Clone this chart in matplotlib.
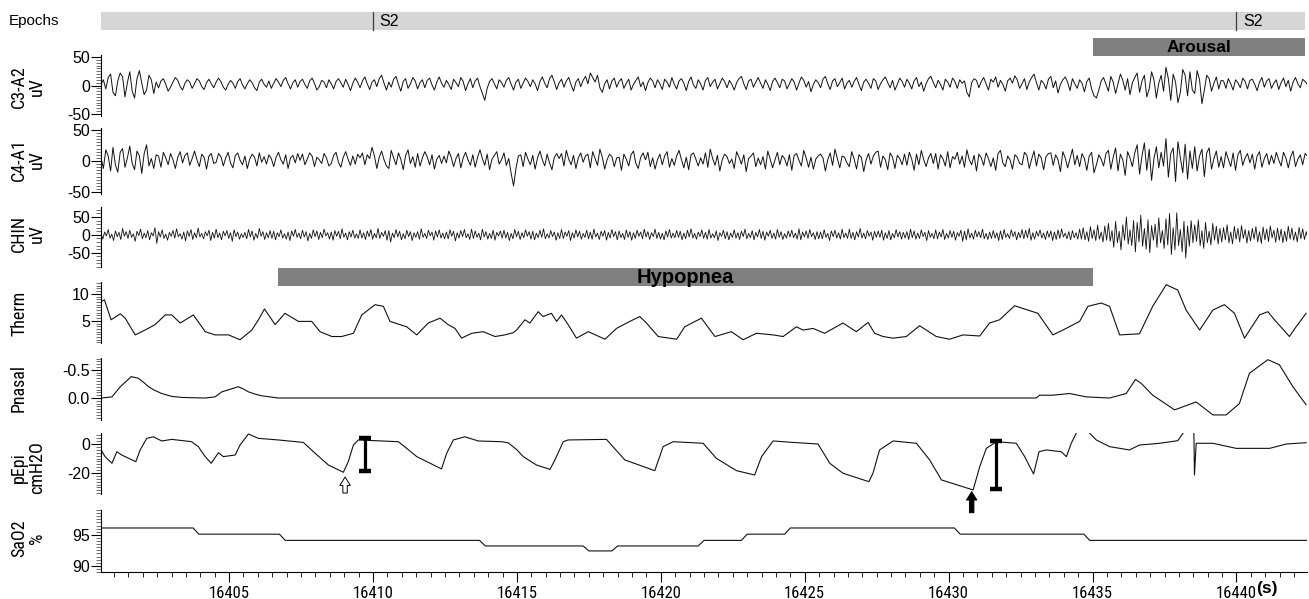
import numpy as np
import matplotlib
matplotlib.use("Agg")
import matplotlib.pyplot as plt
import matplotlib.font_manager as fm
from matplotlib.patches import Rectangle
from matplotlib.ticker import MultipleLocator, FixedLocator, FormatStrFormatter

# ---------------- data ----------------
t_start = 16400.55
eeg_dt = 1 / 12     # EEG sampling interval (s)
chin_dt = 1 / 16    # chin EMG sampling interval (s)

c3_a2 = [
    2, 10, -6, 14, 20, -12, -18, 8, 22, 15, -20, 5,
    24, -10, -22, 12, 26, 4, -16, -8, 18, 10, -14, 6,
    -4, 8, 12, 2, -10, -3, 6, 14, 9, -2, -8, 4,
    10, 6, -5, 3, 12, 8, -2, -7, 5, 11, 3, -4,
    6, 13, 7, -3, -8, 2, 9, 4, -5, 7, 12, 1,
    -6, 3, 10, 5, -4, -9, 6, 11, 2, -3, 8, -5,
    4, 12, 6, -2, 9, 14, 3, -6, 5, 10, -3, 7,
    11, 2, -5, 8, 13, 4, -8, -2, 9, 6, -4, 10,
    3, -6, 7, 12, 5, -3, 11, 2, -9, 4, 13, 6,
    -4, 8, 15, 3, -7, 6, 10, -2, 12, 18, 4, -8,
    6, -3, 11, 16, 2, -10, 7, 12, -5, 3, 14, 8,
    -6, 5, 10, -4, 9, 13, 1, -8, 6, 15, 4, -3,
    9, 2, -7, 11, 5, -2, 14, 7, -9, 3, 12, -4,
    8, 13, -2, -14, -26, -5, 7, 12, 3, -6, 10, 5,
    -3, 9, 14, 2, -8, 6, 11, -5, 4, 13, 7, -2,
    10, 3, -9, 7, 15, 4, -4, 12, 18, 6, -7, 5,
    11, -3, 8, 14, 1, -10, 6, 12, -2, 9, 16, 3,
    22, 14, 6, 18, -4, -12, 3, 10, -6, 8, 13, -3,
    7, 12, -5, 4, 11, -8, 2, 9, 15, -2, 6, -9,
    5, 13, 8, -4, 10, 3, -7, 11, 6, -3, 14, 2,
    -6, 8, 12, 4, -9, 7, 15, 1, -5, 10, 3, -8,
    9, 14, -2, 6, 11, -6, 3, 13, 7, -4, 9, 2,
    -8, 5, 12, 16, 3, -7, 8, 11, -3, 6, 14, 4,
    -5, 10, 2, -9, 7, 13, 5, -4, 11, 8, -6, 3,
    12, 6, -8, 4, 15, 9, -3, 7, -11, 2, 10, 5,
    -4, 11, 16, 3, -7, 8, 12, -2, 5, 13, -6, 4,
    9, -3, 7, 14, 2, -9, 6, 11, 4, -5, 12, 8,
    -7, 3, 10, 15, 5, -4, 9, -8, 2, 13, 7, -3,
    11, 4, -6, 8, 14, -2, 6, -10, 3, 12, 16, 5,
    -4, 9, 2, -8, 11, 6, -3, 13, 7, -5, 10, 4,
    8, -12, -20, 5, 12, 9, -4, 7, 14, 3, -8, 11,
    6, 15, -3, 9, 2, -10, 8, 13, 4, 17, 10, -5,
    3, 12, -7, 6, 14, 20, 5, -8, 9, 4, -6, 11,
    16, -4, 8, -13, 2, 10, 15, 6, -9, 12, 3, -5,
    10, 4, -11, 7, 13, -6, -18, -22, -8, 8, 14, 2,
    -10, 16, 6, -14, 3, 20, 9, -8, 12, -16, 5, 14,
    22, -12, 8, 18, -20, -6, 24, 10, -22, 4, 18, -10,
    32, 12, -26, 20, 6, -30, -12, 28, 18, -18, 24, -8,
    -14, 26, 10, -32, -8, 18, 12, -10, 4, 15, -6, 9,
    8, -5, 12, 3, -8, 10, 5, -4, 13, 7, -6, 9,
    11, 2, -9, 6, 14, -3, 8, 12, -5, 4, 10, -7,
    5, 13, -2, 9, -10, 6, 14, 3, -4, 11, 7, 2,
]

c4_a1 = [
    6, -12, 18, 8, -16, 22, -6, -18, 14, 20, -10, 5,
    24, -4, -14, 16, 8, -20, 12, 26, -8, 4, -12, 10,
    8, -10, 14, 5, -6, 12, 2, -12, 6, 15, -3, 9,
    13, -7, 4, 16, 2, -9, 11, 6, -13, 8, 12, -4,
    -2, 12, 7, -8, 5, 14, -3, -11, 9, 13, 1, -6,
    8, -12, 3, 11, 6, -8, 13, -2, 7, -5, 10, 4,
    -9, 6, 14, 2, -5, 10, -12, 5, 9, -3, 12, 1,
    11, -6, 3, 13, 8, -9, 6, 2, -4, 12, 5, -8,
    -4, 9, 14, -2, -10, 6, 15, 3, -7, 8, -5, 11,
    5, 13, -6, 10, 4, 22, 8, -12, 6, 16, 2, -8,
    -12, 17, 5, -6, 13, 3, -14, 9, 18, -4, 7, -10,
    12, -8, 5, 15, 7, -6, 10, -13, 3, 9, -4, 8,
    -3, 16, 6, -9, 4, 12, -11, 5, 14, 2, -7, 10,
    -10, 6, 18, 4, -7, 11, -14, 3, 9, 15, -5, 2,
    13, -7, 4, -20, -40, -12, 8, 10, -9, 14, 3, -6,
    9, -13, 5, 16, 2, -8, 11, -3, -14, 6, 12, 4,
    12, -8, 17, 3, -6, 9, -12, 5, 13, -2, 8, 11,
    -11, 15, 4, -7, 19, 6, -13, 2, 11, 7, -9, 5,
    6, -15, 11, 3, -8, 10, 16, -4, -12, 6, 13, 2,
    14, -9, 5, -13, 2, 11, -6, 8, 15, -10, 4, -7,
    8, 17, 2, -11, 6, -14, 10, 13, 3, -8, 5, -5,
    13, -10, 19, 4, -7, 9, -16, 2, 11, 7, -4, 3,
    -12, 15, 6, -5, 10, -17, 4, 8, 13, -9, 5, -6,
    7, -13, 16, 3, -11, 2, 14, -6, 9, 4, -8, 10,
    -15, 9, 12, 1, -8, 17, 5, -10, 6, -13, 3, 8,
    11, 5, -16, 2, 13, -7, 19, 4, -11, 8, 6, -3,
    -9, 15, 3, -13, 10, 6, -17, 2, 12, -5, 8, 14,
    16, -10, 8, 2, -14, 13, 6, -12, 9, 4, -6, 11,
    -7, 14, 3, -15, 11, -6, 17, 2, -9, 5, 12, -4,
    12, -13, 10, 4, -8, 15, -11, 7, 3, 14, -5, 8,
    -10, 18, 2, -6, 9, -16, 11, 5, -7, 13, 4, -9,
    5, -15, 12, 17, -3, -9, 8, 2, -13, 10, 6, -4,
    -6, 14, 9, -12, 3, 16, -8, 11, 5, -14, 7, 12,
    13, -7, 10, 2, -17, 15, 5, -11, 4, 19, -6, 9,
    -9, 12, 4, -15, 8, 14, -19, -6, 10, 3, -8, 12,
    17, -13, 6, 21, -16, 11, 2, -23, 15, 5, -9, 13,
    26, -21, 8, 29, -15, 19, -31, 4, 23, -11, 14, -8,
    36, -26, 12, 21, -33, 31, 5, -19, 27, -29, 16, -12,
    23, -16, 8, 19, -25, 13, 21, -13, 4, 16, -10, 7,
    -11, 15, 3, -9, 13, -15, 10, 17, -7, 5, 12, -3,
    11, -13, 8, 15, -10, 4, 12, -6, 9, -4, 14, 2,
    -8, 14, 5, -11, 7, 16, -9, 3, 10, -6, 12, 8,
]

chin = [
    4, -12, 8, -3, 15, -9, 2, -16, 11, -5, 7, -13, 18, -4, 9, -10,
    13, -7, 3, -18, 10, -2, 16, -11, 5, -8, 12, -14, 6, -3, 20, -24,
    9, -6, 14, -10, 2, -15, 7, -4, 12, -9, 17, -5, 3, -12, 8, -17,
    11, -4, 15, -13, 6, -8, 19, -6, 4, -11, 9, -3, 13, -16, 7, -9,
    16, -8, 5, -14, 10, -3, 12, -10, 6, -18, 14, -5, 8, -12, 3, -7,
    7, -11, 15, -6, 11, -15, 4, -9, 18, -4, 9, -13, 6, -8, 12, -10,
    10, -14, 6, -5, 14, -9, 3, -12, 8, -16, 11, -4, 15, -7, 5, -11,
    13, -6, 9, -17, 4, -10, 14, -5, 11, -13, 7, -8, 16, -3, 6, -12,
    8, -15, 12, -4, 10, -11, 17, -7, 5, -14, 9, -6, 13, -9, 3, -10,
    14, -9, 6, -13, 11, -5, 15, -12, 4, -8, 18, -10, 7, -4, 12, -15,
    12, -20, 5, -8, 15, -6, 10, -14, 3, -11, 13, -5, 9, -16, 6, -7,
    9, -12, 17, -7, 4, -10, 13, -3, 8, -15, 11, -6, 14, -9, 5, -11,
    8, -11, 14, -4, 10, -17, 6, -9, 12, -5, 15, -8, 3, -13, 16, -10,
    11, -7, 5, -14, 16, -6, 9, -12, 4, -10, 13, -15, 7, -3, 11, -9,
    13, -9, 7, -16, 4, -11, 15, -5, 10, -13, 6, -8, 14, -4, 9, -12,
    10, -14, 5, -8, 13, -7, 17, -11, 3, -9, 12, -5, 8, -15, 6, -10,
    15, -10, 8, -4, 12, -16, 6, -9, 14, -6, 10, -12, 4, -7, 13, -11,
    8, -12, 16, -6, 5, -13, 10, -4, 12, -15, 7, -9, 15, -5, 9, -14,
    11, -8, 4, -13, 14, -7, 9, -15, 6, -10, 13, -4, 8, -11, 16, -6,
    9, -13, 6, -5, 16, -10, 7, -12, 4, -14, 11, -6, 15, -9, 5, -8,
    12, -7, 10, -14, 5, -11, 13, -6, 17, -9, 4, -12, 8, -5, 14, -10,
    7, -12, 15, -9, 3, -8, 11, -16, 6, -4, 13, -11, 9, -14, 5, -7,
    14, -9, 6, -13, 10, -5, 16, -11, 4, -8, 12, -14, 7, -6, 15, -10,
    10, -15, 8, -4, 13, -10, 5, -12, 15, -7, 9, -13, 3, -9, 11, -6,
    13, -8, 5, -12, 17, -14, 8, -6, 11, -10, 15, -5, 6, -13, 9, -11,
    8, -11, 14, -7, 4, -16, 11, -5, 13, -9, 6, -12, 16, -8, 5, -10,
    16, -10, 7, -14, 9, -6, 18, -9, 5, -11, 12, -4, 8, -15, 10, -7,
    11, -7, 13, -15, 6, -10, 12, -14, 4, -8, 15, -6, 9, -12, 7, -9,
    9, -13, 16, -8, 11, -12, 5, -10, 14, -5, 7, -16, 12, -7, 4, -11,
    14, -11, 8, -6, 15, -13, 4, -9, 12, -7, 10, -15, 6, -4, 13, -18,
    10, -14, 17, -9, 5, -12, 13, -6, 9, -8, 16, -11, 4, -13, 8, -10,
    12, -9, 6, -16, 11, -13, 15, -7, 3, -10, 14, -5, 9, -14, 7, -8,
    15, -11, 13, -8, 18, -15, 6, -12, 10, -4, 14, -9, 5, -13, 11, -7,
    11, -16, 8, -13, 14, -10, 17, -6, 5, -11, 9, -14, 12, -8, 6, -12,
    16, -12, 20, -14, 9, -18, 23, -10, 14, -16, 27, -12, 8, -20, 25, -15,
    32, -18, 12, -35, 38, -22, 10, -42, 28, -15, 50, -26, 14, -30, 40, -48,
    35, -20, 55, -32, 18, -40, 42, -50, 26, -15, 30, -35, 48, -22, 12, -38,
    45, -28, 60, -55, 20, -42, 62, -30, 15, -48, 38, -65, 25, -32, 40, -22,
    28, -18, 42, -30, 12, -38, 35, -22, 10, -28, 32, -15, 24, -26, 18, -20,
    20, -14, 28, -22, 8, -25, 24, -12, 18, -20, 26, -10, 15, -23, 12, -17,
    18, -12, 23, -20, 9, -24, 22, -14, 16, -19, 25, -8, 13, -21, 19, -15,
    16, -22, 10, -18, 24, -12, 19, -15, 8, -20, 21, -11, 17, -13, 9, -14,
]

therm_t = [16400.56, 16400.67, 16400.90, 16401.22, 16401.39, 16401.74, 16402.08, 16402.43, 16402.78,
           16403.01, 16403.30, 16403.76, 16404.17, 16404.51, 16404.98, 16405.38, 16405.79, 16406.02,
           16406.23, 16406.60, 16406.94, 16407.41, 16407.87, 16408.16, 16408.57, 16408.91, 16409.32,
           16409.61, 16410.07, 16410.36, 16410.59, 16410.94, 16411.17, 16411.52, 16411.92, 16412.33,
           16412.61, 16412.85, 16413.08, 16413.43, 16413.83, 16414.24, 16414.58, 16414.87, 16414.99,
           16415.28, 16415.45, 16415.74, 16415.91, 16416.20, 16416.38, 16416.55, 16416.78, 16417.07,
           16417.48, 16418.06, 16418.46, 16418.92, 16419.27, 16419.50, 16419.91, 16420.55, 16420.83,
           16421.41, 16421.88, 16422.45, 16422.86, 16423.32, 16423.90, 16424.25, 16424.71, 16424.94,
           16425.29, 16425.69, 16426.33, 16426.79, 16427.20, 16427.43, 16427.72, 16428.07, 16428.53,
           16428.99, 16429.57, 16430.03, 16430.50, 16431.08, 16431.42, 16431.77, 16432.29, 16433.10,
           16433.62, 16433.97, 16434.55, 16434.84, 16435.30, 16435.59, 16435.94, 16436.63, 16437.09,
           16437.56, 16437.96, 16438.25, 16438.72, 16439.18, 16439.58, 16439.93, 16440.28, 16440.80,
           16441.09, 16441.32, 16441.84, 16442.07, 16442.42]
therm_v = [8.6, 8.9, 5.2, 6.3, 5.5, 2.4, 3.3, 4.3, 6.1, 6.1, 4.6, 6.1, 3.0, 2.4, 2.4, 1.5, 3.3, 5.2,
           7.2, 4.3, 6.4, 4.9, 4.9, 3.0, 2.1, 2.1, 2.7, 6.1, 8.0, 7.7, 4.9, 4.3, 3.9, 2.4, 4.6, 5.5,
           4.3, 3.6, 1.8, 2.7, 3.0, 2.1, 2.4, 2.8, 3.3, 5.2, 4.6, 6.7, 5.8, 6.4, 4.9, 6.1, 4.3, 1.8,
           3.0, 1.6, 3.6, 4.9, 5.8, 4.6, 2.1, 1.6, 3.9, 5.5, 2.1, 3.0, 1.5, 2.7, 2.4, 2.1, 3.9, 3.3,
           3.6, 2.7, 4.6, 3.0, 4.7, 2.7, 2.1, 1.8, 2.1, 4.1, 2.1, 1.6, 2.4, 2.2, 4.6, 5.2, 7.8, 6.4,
           2.4, 3.3, 4.9, 7.7, 8.3, 7.7, 2.4, 2.6, 7.7, 11.7, 10.7, 7.0, 3.3, 7.0, 8.0, 6.4, 1.8, 6.1,
           6.7, 5.2, 2.1, 3.9, 6.4]

pnasal_t = [16400.56, 16400.93, 16401.22, 16401.60, 16401.85, 16402.05, 16402.20, 16402.40, 16402.66,
            16403.00, 16403.36, 16404.17, 16404.51, 16404.75, 16405.32, 16405.50, 16405.67, 16405.90,
            16406.13, 16406.71, 16433.04, 16433.16, 16433.62, 16434.20, 16434.78, 16435.59, 16436.17,
            16436.49, 16436.69, 16437.09, 16437.85, 16438.60, 16439.18, 16439.64, 16440.10, 16440.45,
            16441.09, 16441.49, 16441.96, 16442.42]
pnasal_v = [0.0, -0.02, -0.20, -0.38, -0.35, -0.27, -0.20, -0.14, -0.08, -0.03, -0.01, 0.0, -0.02,
            -0.11, -0.20, -0.16, -0.11, -0.07, -0.04, 0.0, 0.0, -0.05, -0.05, -0.08, -0.02, 0.0, -0.08,
            -0.33, -0.26, -0.05, 0.21, 0.07, 0.30, 0.30, 0.10, -0.44, -0.68, -0.59, -0.20, 0.12]

nan = float("nan")
pepi_t = [16400.52, 16400.69, 16400.93, 16401.10, 16401.27, 16401.76, 16401.91, 16402.14, 16402.37,
          16402.66, 16403.01, 16403.70, 16403.93, 16404.17, 16404.38, 16404.63, 16404.80, 16405.21,
          16405.38, 16405.67, 16406.02, 16406.71, 16407.58, 16407.99, 16408.45, 16408.97, 16409.14,
          16409.32, 16409.49, 16410.88, 16411.17, 16411.52, 16412.38, 16412.56, 16412.79, 16413.19,
          16413.66, 16414.47, 16414.70, 16415.00, 16415.22, 16415.68, 16416.15, 16416.32, 16416.61,
          16416.78, 16418.11, 16418.75, 16419.79, 16420.08, 16420.43, 16421.47, 16421.93, 16422.63,
          16423.26, 16423.50, 16423.90, 16424.59, 16425.46, 16425.87, 16426.33, 16427.23, 16427.37,
          16427.60, 16428.07, 16428.88, 16429.34, 16429.75, 16430.85, 16431.08, 16431.31, 16431.66,
          16432.35, 16432.64, 16432.95, 16433.14, 16433.39, 16433.91, 16434.09, 16434.26, 16434.43,
          16434.65, 16434.90, 16435.13, 16435.59, 16436.28, 16436.63, 16437.33, 16437.96, 16438.14,
          16438.33, 16438.52, 16438.54, 16438.60, 16439.18, 16439.99, 16441.15, 16441.73, 16442.42]
pepi_v = [-3.0, -8.7, -13.3, -5.3, -7.6, -12.2, -4.1, 3.9, 5.0, 2.1, 3.2, 1.6, -1.8, -8.7, -13.3,
          -6.0, -8.7, -7.6, -0.7, 6.9, 3.9, 2.8, 1.1, -6.4, -14.5, -19.5, -12.2, -0.7, 2.8, 1.6,
          -3.0, -8.7, -17.2, -6.4, 2.8, 5.0, 2.1, 1.6, 0.8, -4.0, -8.7, -14.5, -17.5, -11.0, 1.6,
          2.8, 3.2, -11.0, -18.4, -1.8, 1.6, 0.5, -9.9, -18.4, -21.4, -8.7, 2.1, 1.1, 0.0, -13.3,
          -20.2, -26.0, -20.2, -4.1, 2.1, 0.5, -11.0, -24.8, -31.7, -15.6, -3.0, 1.6, 0.5, -8.7,
          -20.7, -5.3, -4.1, -5.3, -8.7, 0.5, 7.4, nan, 7.4, 2.8, -1.8, -4.1, -0.7, 0.5, 2.3, 7.4,
          nan, 7.4, -21.4, 0.5, 0.5, -3.0, -3.0, 0.0, 0.9]

sao2_t = [16400.55, 16403.75, 16403.95, 16406.75, 16406.95, 16413.70, 16413.90, 16417.30, 16417.50,
          16418.30, 16418.50, 16421.30, 16421.50, 16422.80, 16423.00, 16424.30, 16424.50, 16430.20,
          16430.40, 16434.70, 16434.90, 16442.45]
sao2_v = [96.1, 96.1, 95.1, 95.1, 94.1, 94.1, 93.2, 93.2, 92.4, 92.4, 93.2, 93.2, 94.1, 94.1, 95.1,
          95.1, 96.1, 96.1, 95.1, 95.1, 94.1, 94.1]

epoch_starts = [16410.0, 16440.0]
epoch_labels = ["S2", "S2"]
events = [("Arousal", 16435.0, 16442.38), ("Hypopnea", 16406.7, 16435.0)]

arrow_t = [16409.03, 16430.80]
arrow_tip = [-22.8, -32.9]
arrow_tail = [-33.8, -47.4]
arrow_fill = ["white", "black"]
ibeam_t = [16409.72, 16431.63]
ibeam_top = [4.0, 2.1]
ibeam_bot = [-18.6, -31.3]

# ---------------- fonts ----------------
names = {f.name for f in fm.fontManager.ttflist}
REG = "Liberation Sans" if "Liberation Sans" in names else "DejaVu Sans"
COND = None
for nm in ["Liberation Sans Narrow", "Arial Narrow", "Roboto Condensed", "Open Sans Condensed",
           "Noto Sans Condensed", "DejaVu Sans Condensed"]:
    if nm in names:
        COND = (nm, "normal")
        break
if COND is None:
    pref = ["Liberation Sans", "Roboto", "Noto Sans", "Open Sans", "DejaVu Sans"]
    found = [f for f in fm.fontManager.ttflist
             if f.name in pref and f.stretch in ("condensed", "semi-condensed")
             and f.style == "normal" and f.weight in (400, "normal", "regular")]
    if found:
        found.sort(key=lambda f: pref.index(f.name))
        COND = (found[0].name, found[0].stretch)

plt.rcParams["font.family"] = [REG, "DejaVu Sans"]
plt.rcParams["axes.unicode_minus"] = False

if COND:
    lab_font = dict(family=[COND[0], REG], stretch=COND[1], size=13)
    xt_font = dict(family=[COND[0], REG], stretch=COND[1], size=12)
else:
    lab_font = dict(family=[REG], size=11)
    xt_font = dict(family=[REG], size=10.5)

# ---------------- layout ----------------
W, H = 1309, 599
fig = plt.figure(figsize=(W / 100, H / 100), dpi=100)
L, R = 101, 1307
XL = (16400.55, 16442.45)


def ax_at(top, bot):
    a = fig.add_axes([L / W, 1 - bot / H, (R - L) / W, (bot - top) / H])
    a.set_xlim(*XL)
    a.patch.set_alpha(0)
    return a


eeg_t = t_start + np.arange(len(c3_a2)) * eeg_dt
chin_t = t_start + np.arange(len(chin)) * chin_dt

channels = [
    # label, label_x, label_y, top, bottom, ylim, major ticks, minor step, fmt, t, v, lw
    ("C3-A2\nuV", 28, 87, 55, 116, (-53.5, 53.5), [-50, 0, 50], 5, "%d", eeg_t, c3_a2, 0.7),
    ("C4-A1\nuV", 28, 160, 128, 194, (-53, 53), [-50, 0, 50], 5, "%d", eeg_t, c4_a1, 0.7),
    ("CHIN\nuV", 28, 234, 207, 267, (-90, 78), [-50, 0, 50], 10, "%d", chin_t, chin, 0.6),
    ("Therm", 19, 313, 282, 343, (0.9, 12.2), [5, 10], 0.5, "%d", therm_t, therm_v, 0.8),
    ("Pnasal", 19, 388, 358, 420, (0.39, -0.71), [-0.5, 0.0], 0.05, "%.1f", pnasal_t, pnasal_v, 0.8),
    ("pEpi\ncmH2O", 28, 468, 433, 494, (-34.5, 7.6), [-20, 0], 2, "%d", pepi_t, pepi_v, 0.8),
    ("SaO2\n%", 28, 538, 510, 572, (89, 99), [90, 95], 0.5, "%d", sao2_t, sao2_v, 0.8),
]

axes = []
for i, (lab, lx, ly, top, bot, yl, maj, mnr, fmt, tt, vv, lw) in enumerate(channels):
    a = ax_at(top, bot)
    a.plot(tt, vv, color="#111111", lw=lw)
    a.set_ylim(*yl)
    for s in ("top", "right", "bottom"):
        a.spines[s].set_visible(False)
    a.spines["left"].set_linewidth(0.8)
    a.yaxis.set_major_locator(FixedLocator(maj))
    a.yaxis.set_minor_locator(MultipleLocator(mnr))
    a.yaxis.set_major_formatter(FormatStrFormatter(fmt))
    a.tick_params(axis="y", which="major", length=7, width=0.8, pad=1, labelsize=11.5, colors="black")
    a.tick_params(axis="y", which="minor", length=3.5, width=0.5, colors="#333333")
    a.tick_params(axis="x", which="both", bottom=False, labelbottom=False)
    fig.text(lx / W, 1 - ly / H, lab, rotation=90, ha="center", va="center",
             multialignment="center", linespacing=1.0, **lab_font)
    axes.append(a)

# bottom axis (time)
ab = axes[-1]
ab.spines["bottom"].set_visible(True)
ab.spines["bottom"].set_linewidth(0.8)
ab.xaxis.set_major_locator(MultipleLocator(5))
ab.xaxis.set_minor_locator(MultipleLocator(0.5))
ab.xaxis.set_major_formatter(FormatStrFormatter("%d"))
ab.tick_params(axis="x", which="major", bottom=True, labelbottom=True, length=7, width=0.8, pad=3)
ab.tick_params(axis="x", which="minor", bottom=True, length=3.5, width=0.6)
for tl in ab.get_xticklabels():
    tl.set_fontfamily(xt_font["family"])
    tl.set_fontsize(xt_font["size"])
    if "stretch" in xt_font:
        tl.set_fontstretch(xt_font["stretch"])
fig.text(1267 / W, 1 - 589 / H, "(s)", ha="center", va="center", fontsize=12.5, fontweight="bold")

# pEpi annotations
ap = axes[5]
for t, tip, tail, fc in zip(arrow_t, arrow_tip, arrow_tail, arrow_fill):
    ap.annotate("", xy=(t, tip), xytext=(t, tail), annotation_clip=False,
                arrowprops=dict(arrowstyle="simple,head_length=0.6,head_width=0.75,tail_width=0.32",
                                fc=fc, ec="black", lw=0.7, shrinkA=0, shrinkB=0, mutation_scale=10))
for t, top, bot in zip(ibeam_t, ibeam_top, ibeam_bot):
    ap.plot([t, t], [top, bot], color="black", lw=2.3, clip_on=False, solid_capstyle="butt")
    ap.plot([t, t], [top, bot], ls="none", marker="_", ms=9, mew=3.2, color="black", clip_on=False)

# overlay for epochs & event bars (x in seconds, y in pixels)
ov = fig.add_axes([L / W, 0, (R - L) / W, 1])
ov.set_xlim(*XL)
ov.set_ylim(H, 0)
ov.axis("off")
ov.patch.set_alpha(0)
ov.add_patch(Rectangle((XL[0], 12), 16442.38 - XL[0], 18, fc="#d6d6d6", ec="none"))
for t, lab in zip(epoch_starts, epoch_labels):
    ov.plot([t, t], [12, 30], color="#3c3c3c", lw=0.9)
    ov.text(t + 0.22, 21.5, lab, ha="left", va="center", fontsize=11.5)
bar_y = {"Arousal": 38, "Hypopnea": 268}
bar_fs = {"Arousal": 12.5, "Hypopnea": 14.5}
for name, t0, t1 in events:
    y0 = bar_y[name]
    ov.add_patch(Rectangle((t0, y0), t1 - t0, 18, fc="#808080", ec="none"))
    ov.text((t0 + t1) / 2, y0 + 9.5, name, ha="center", va="center", fontsize=bar_fs[name],
            fontweight="bold")

fig.text(9 / W, 1 - 21 / H, "Epochs", ha="left", va="center", fontsize=11)

fig.savefig("out.png", dpi=100)
